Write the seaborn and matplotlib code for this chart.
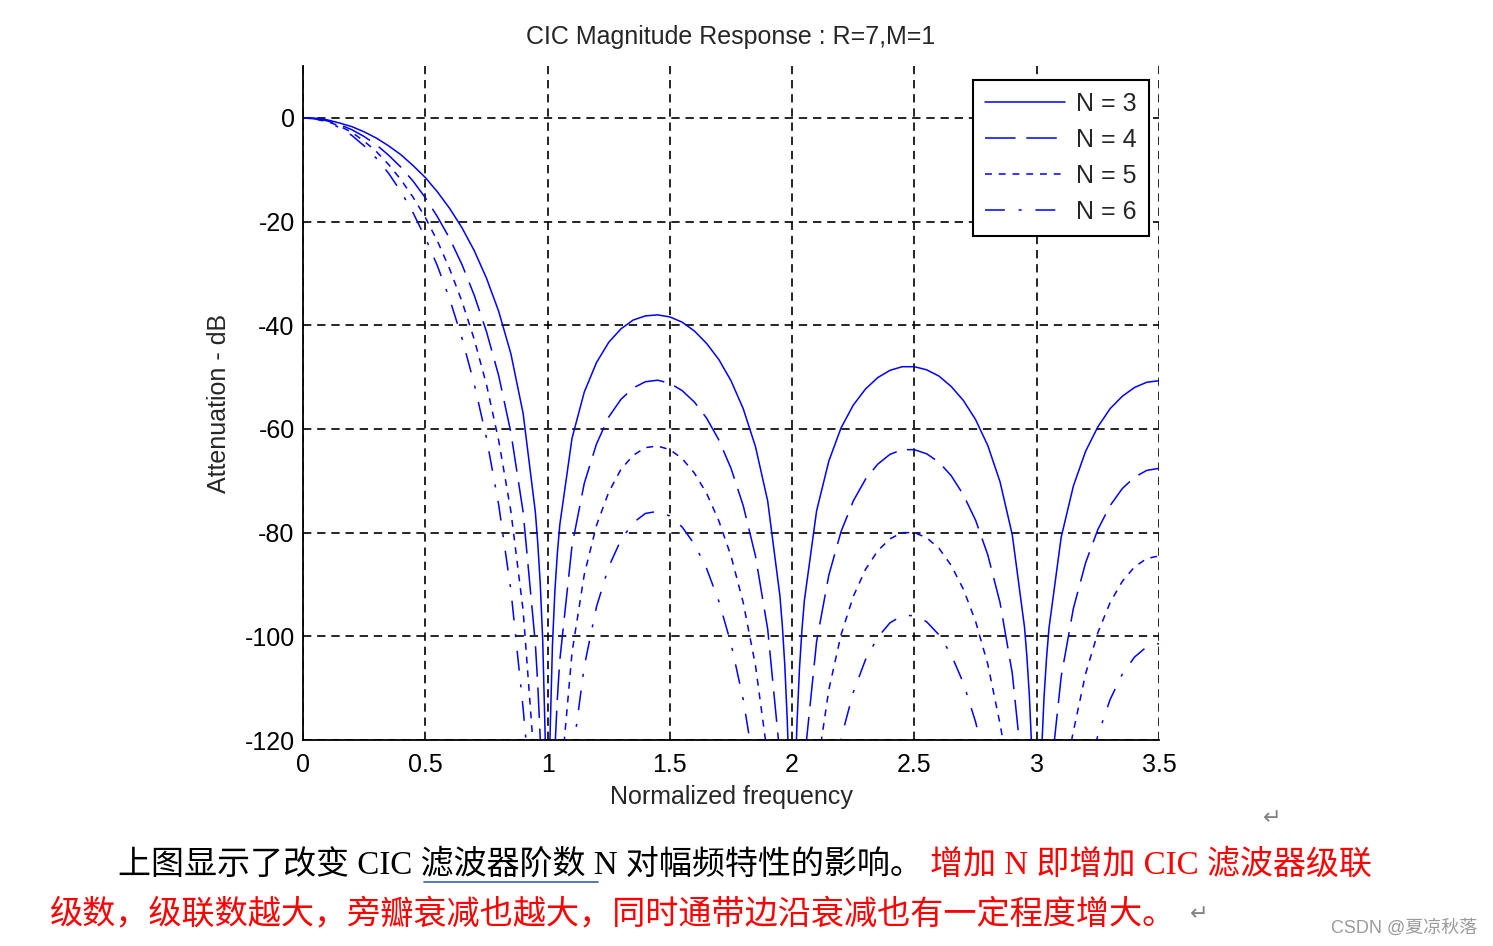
import numpy as np
import pandas as pd
import seaborn as sns
import matplotlib
matplotlib.use("Agg")
import matplotlib.pyplot as plt
from matplotlib.lines import Line2D

# Normalized frequency sample points (read along the x axis)
freq = [0, 0.05, 0.1, 0.15, 0.2, 0.25, 0.3, 0.35, 0.4, 0.45, 0.5, 0.55, 0.6, 0.65, 0.7, 0.75, 0.8, 0.85, 0.9,
        0.95, 0.96, 0.97, 0.98, 0.99, 0.995, 1.005, 1.01, 1.02, 1.03, 1.04, 1.05,
        1.1, 1.15, 1.2, 1.25, 1.3, 1.35, 1.4, 1.45, 1.5, 1.55, 1.6, 1.65, 1.7, 1.75, 1.8, 1.85, 1.9,
        1.95, 1.96, 1.97, 1.98, 1.99, 1.995, 2.005, 2.01, 2.02, 2.03, 2.04, 2.05,
        2.1, 2.15, 2.2, 2.25, 2.3, 2.35, 2.4, 2.45, 2.5, 2.55, 2.6, 2.65, 2.7, 2.75, 2.8, 2.85, 2.9,
        2.95, 2.96, 2.97, 2.98, 2.99, 2.995, 3.005, 3.01, 3.02, 3.03, 3.04, 3.05,
        3.1, 3.15, 3.2, 3.25, 3.3, 3.35, 3.4, 3.45, 3.5]

# Attenuation (dB) for each number of stages N (values below -120 fall off the axis)
att_n3 = [0, -0.1, -0.4, -1, -1.7, -2.7, -3.9, -5.4, -7.1, -9.2, -11.5, -14.3, -17.5, -21.2, -25.6, -30.9, -37.3,
          -45.5, -57, -76, -82.1, -89.8, -100.6, -118.9, -130, -130, -119.4, -101.6, -91.2, -84, -78.5, -61.8,
          -52.9, -47.2, -43.3, -40.7, -39, -38.2, -38, -38.4, -39.4, -41.1, -43.5, -46.6, -50.7, -56.1, -63.4,
          -73.9, -92.2, -98, -105.6, -116.2, -130, -130, -130, -130, -116.6, -106.2, -98.8, -93.1, -75.8, -66.2,
          -59.8, -55.4, -52.3, -50.1, -48.7, -48, -48, -48.6, -49.8, -51.8, -54.5, -58.2, -63.2, -70.2, -80.4,
          -98.2, -104, -111.5, -122.1, -130, -130, -130, -130, -122.2, -111.7, -104.3, -98.5, -80.9, -71, -64.3,
          -59.6, -56.1, -53.7, -52, -51, -50.7]
att_n4 = [0, -0.1, -0.6, -1.3, -2.3, -3.6, -5.2, -7.2, -9.5, -12.2, -15.4, -19.1, -23.3, -28.3, -34.2, -41.2, -49.7,
          -60.7, -76, -101.4, -109.4, -119.7, -130, -130, -130, -130, -130, -130, -121.7, -112, -104.6, -82.5,
          -70.5, -62.9, -57.7, -54.3, -52.1, -50.9, -50.6, -51.2, -52.6, -54.8, -57.9, -62.1, -67.6, -74.8, -84.5,
          -98.6, -122.9, -130, -130, -130, -130, -130, -130, -130, -130, -130, -130, -124.1, -101, -88.2, -79.8,
          -73.9, -69.7, -66.8, -64.9, -64, -64, -64.8, -66.4, -69, -72.7, -77.6, -84.3, -93.5, -107.1, -130, -130,
          -130, -130, -130, -130, -130, -130, -130, -130, -130, -130, -107.8, -94.6, -85.8, -79.4, -74.8, -71.5,
          -69.3, -68, -67.6]
att_n5 = [0, -0.2, -0.7, -1.6, -2.8, -4.5, -6.5, -9, -11.9, -15.3, -19.2, -23.8, -29.2, -35.4, -42.7, -51.4, -62.2,
          -75.9, -95, -126.7, -130, -130, -130, -130, -130, -130, -130, -130, -130, -130, -130, -103.1, -88.1,
          -78.6, -72.2, -67.8, -65.1, -63.6, -63.3, -64, -65.7, -68.5, -72.4, -77.7, -84.5, -93.5, -105.6, -123.2,
          -130, -130, -130, -130, -130, -130, -130, -130, -130, -130, -130, -130, -126.3, -110.3, -99.7, -92.3,
          -87.1, -83.5, -81.2, -80, -80, -81, -83, -86.3, -90.9, -97.1, -105.4, -116.9, -130, -130, -130, -130,
          -130, -130, -130, -130, -130, -130, -130, -130, -130, -130, -118.3, -107.2, -99.3, -93.5, -89.4, -86.6,
          -85, -84.5]
att_n6 = [0, -0.2, -0.8, -1.9, -3.4, -5.4, -7.8, -10.7, -14.2, -18.3, -23.1, -28.6, -35.0, -42.5, -51.3, -61.7,
          -74.6, -91.1, -113.9, -140, -140, -140, -140, -140, -140, -140, -140, -140, -140, -140, -140,
          -123.7, -105.8, -94.3, -86.6, -81.4, -78.1, -76.3, -75.9, -76.8, -78.9, -82.2, -86.9, -93.2, -101.4,
          -112.2, -126.7, -140, -140, -140, -140, -140, -140, -140, -140, -140, -140, -140, -140, -140, -140,
          -132.4, -119.7, -110.8, -104.5, -100.2, -97.4, -96.0, -96.0, -97.2, -99.7, -103.5, -109.0, -116.5,
          -126.5, -140, -140, -140, -140, -140, -140, -140, -140, -140, -140, -140, -140, -140, -140, -140, -140,
          -128.6, -119.1, -112.2, -107.3, -104.0, -102.0, -101.4]

series_labels = ["N = 3", "N = 4", "N = 5", "N = 6"]
series_values = [att_n3, att_n4, att_n5, att_n6]
x_ticks = [0, 0.5, 1, 1.5, 2, 2.5, 3, 3.5]
x_tick_labels = ["0", "0.5", "1", "1.5", "2", "2.5", "3", "3.5"]
y_ticks = [-120, -100, -80, -60, -40, -20, 0]

df = pd.concat(
    [pd.DataFrame({"freq": freq, "att": vals, "series": lab}) for lab, vals in zip(series_labels, series_values)],
    ignore_index=True,
)

sns.set_theme(style="white")
plt.rcParams["font.family"] = ["Liberation Sans", "DejaVu Sans"]
plt.rcParams["axes.unicode_minus"] = False

W, H = 1493, 946
fig = plt.figure(figsize=(W / 100, H / 100), dpi=100)
ax = fig.add_axes([303 / W, 1 - 740 / H, (1159 - 303) / W, (740 - 66) / H])

styles = {"N = 3": "-", "N = 4": (0, (20, 7)), "N = 5": (0, (4.5, 4.5)), "N = 6": (0, (13, 9, 2, 9))}
for lab in series_labels:
    sub = df[df["series"] == lab]
    sns.lineplot(data=sub, x="freq", y="att", ax=ax, color="#0000ff", linewidth=1.1,
                 linestyle=styles[lab], label=lab, estimator=None, sort=False)

ax.set_xlim(0, 3.5)
ax.set_ylim(-120, 10)
ax.set_xticks(x_ticks)
ax.set_xticklabels(x_tick_labels)
ax.set_yticks(y_ticks)
ax.grid(True, color="black", linestyle=(0, (5, 3.5)), linewidth=1.2)
for s in ["top", "right"]:
    ax.spines[s].set_visible(False)
for s in ["left", "bottom"]:
    ax.spines[s].set_color("black")
    ax.spines[s].set_linewidth(1.3)
ax.tick_params(direction="in", length=6, width=1.2, colors="black", labelsize=18, pad=6)
ax.tick_params(axis="x", pad=9)
ax.set_title("CIC Magnitude Response : R=7,M=1", fontsize=18, pad=16)
ax.set_xlabel("Normalized frequency", fontsize=18, labelpad=6)
ax.set_ylabel("Attenuation - dB", fontsize=18, labelpad=10)
leg = ax.legend(loc="upper right", bbox_to_anchor=(0.9883, 0.9792), borderaxespad=0,
                fontsize=18, handlelength=3.2, handletextpad=0.45, labelspacing=0.48,
                borderpad=0.48, fancybox=False, framealpha=1, edgecolor="black")
leg.get_frame().set_linewidth(1.5)


def fx(px):
    return px / W


def fy(py):
    return 1 - py / H


mix = ["Liberation Serif", "Noto Sans CJK SC"]
fig.text(fx(118), fy(865), "上图显示了改变 CIC 滤波器阶数 N 对幅频特性的影响。", family=mix,
         fontsize=23.8, color="black", va="center", ha="left")
fig.text(fx(930), fy(865), "增加 N 即增加 CIC 滤波器级联", family=mix,
         fontsize=23.8, color="red", va="center", ha="left")
fig.text(fx(50), fy(914), "级数，级联数越大，旁瓣衰减也越大，同时通带边沿衰减也有一定程度增大。", family=mix,
         fontsize=23.9, color="red", va="center", ha="left")
fig.add_artist(Line2D([fx(424), fx(598)], [fy(882), fy(882)], color="#3a5fb0", linewidth=1.2))
fig.text(fx(1272), fy(818), "↵", family=["DejaVu Sans"], fontsize=16, color="#808080", va="center", ha="center")
fig.text(fx(1199), fy(914), "↵", family=["DejaVu Sans"], fontsize=16, color="#808080", va="center", ha="center")
fig.text(fx(1477), fy(928), "CSDN @夏凉秋落", family=["Liberation Sans", "Noto Sans CJK SC"],
         fontsize=13, color="#9a9a9a", va="center", ha="right")

fig.savefig("out.png", dpi=100)
